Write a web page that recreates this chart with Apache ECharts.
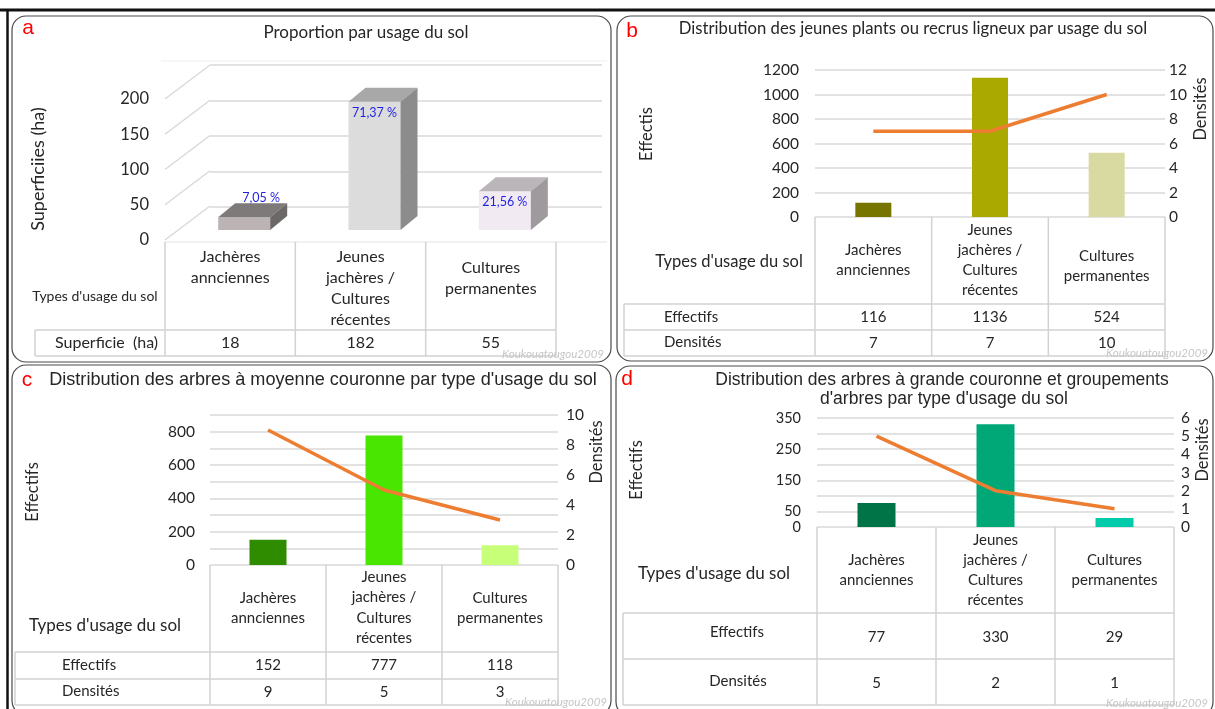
<!DOCTYPE html>
<html>
<head>
<meta charset="utf-8">
<script src="https://cdn.jsdelivr.net/npm/echarts@6/dist/echarts.min.js"></script>
<style>
html, body { margin: 0; padding: 0; background: #fff; }
#main { width: 1215px; height: 709px; }
</style>
</head>
<body>
<div id="main"></div>
<script>
// données
var categories = ['Jachères\nannciennes', 'Jeunes\njachères /\nCultures\nrécentes', 'Cultures\npermanentes'];

// a - superficie par usage du sol
var superficies = [18, 182, 55];
var proportions = ['7,05 %', '71,37 %', '21,56 %'];
var ticksA = [0, 50, 100, 150, 200];

// b - jeunes plants ou recrus ligneux
var effectifsB = [116, 1136, 524];
var densitesB = [7, 7, 10];

// c - arbres à moyenne couronne
var effectifsC = [152, 777, 118];
var densitesC = [9, 5, 3];
var ticksC = [0, 200, 400, 600, 800];

// d - arbres à grande couronne
var effectifsD = [77, 330, 29];
var densitesD = [5, 2, 1];
var ticksD = [0, 50, 150, 250, 350];

var chart = echarts.init(document.getElementById('main'));

var FONT = 'Lato, "Open Sans", sans-serif';
var ARIAL = '"Liberation Sans", Arial, sans-serif';
var TXT = '#262626';
var GRID = '#d9d9d9';
var TABLE = '#d2d2d2';
var ORANGE = '#ed7d31';

var colorsA = [
    {front: '#bcb4b4', top: '#7e7a7a', side: '#6c6868'},
    {front: '#dcdcdc', top: '#a8a8a8', side: '#8c8c8c'},
    {front: '#f2eaf2', top: '#bab6ba', side: '#9e9a9e'}
];
var colorsB = ['#757500', '#a9a900', '#d9d9a2'];
var colorsC = ['#2f8c00', '#48e600', '#c8ff78'];
var colorsD = ['#007447', '#00a878', '#00cbaa'];

function text(x, y, s, o) {
    o = o || {};
    return {
        type: 'text', x: x, y: y, rotation: o.rot || 0, silent: true, z: 10,
        style: {
            text: s, fill: o.color || TXT,
            font: (o.italic ? 'italic ' : '') + (o.size || 14) + 'px ' + (o.family || FONT),
            align: o.align || 'center', verticalAlign: 'middle',
            lineHeight: o.lh || Math.round((o.size || 14) * 1.4)
        }
    };
}
function line(x1, y1, x2, y2, color, w) {
    return {type: 'line', silent: true, z: 1, shape: {x1: x1, y1: y1, x2: x2, y2: y2},
        style: {stroke: color || TABLE, lineWidth: w || 1.5}};
}
function frame(x, y, w, h) {
    return {type: 'rect', silent: true, z: 0, shape: {x: x, y: y, width: w, height: h, r: 14},
        style: {fill: 'none', stroke: '#4a4a4a', lineWidth: 1.2}};
}

function tableGraphics(t) {
    var g = [];
    var colW = t.width / 3;
    var right = t.left + t.width;
    var bottom = t.hLines[t.hLines.length - 1];
    for (var i = 0; i <= 3; i++) g.push(line(t.left + i * colW, t.top, t.left + i * colW, bottom));
    t.hLines.forEach(function (y) { g.push(line(t.outer, y, right, y)); });
    g.push(line(t.outer, t.hLines[0], t.outer, bottom));
    categories.forEach(function (c, i) {
        g.push(text(t.left + (i + 0.5) * colW, t.catY[i], c, {size: t.catSize, lh: t.catLH}));
    });
    g.push(text(t.headX, t.headY, "Types d'usage du sol", {size: t.headSize}));
    t.rows.forEach(function (r) {
        g.push(text(r.x, r.y, r.label, {size: t.rowSize, align: r.align}));
        r.values.forEach(function (v, i) {
            g.push(text(t.left + (i + 0.5) * colW, r.vy, String(v), {size: t.rowSize}));
        });
    });
    return g;
}

function bars(values, colors) {
    return values.map(function (v, i) { return {value: v, itemStyle: {color: colors[i]}}; });
}

var hiddenX = function (grid) {
    return {type: 'category', gridIndex: grid, data: categories,
        axisLine: {show: false}, axisTick: {show: false}, axisLabel: {show: false}, splitLine: {show: false}};
};
var plain = function (v) { return String(v); };
var labelStyle = {color: TXT, fontSize: 15.5, fontFamily: FONT, formatter: plain};

var graphics = [
    line(0, 10, 1215, 10, '#111', 3),
    line(7.5, 10, 7.5, 709, '#111', 2.5),
    frame(12, 16, 599, 346),
    frame(617, 16, 596, 345),
    frame(12, 365, 599, 350),
    frame(616, 366, 597, 350),
    // lettres
    text(28, 28, 'a', {size: 21, color: '#ff0000', family: ARIAL}),
    text(632, 31, 'b', {size: 21, color: '#ff0000', family: ARIAL}),
    text(27, 380, 'c', {size: 21, color: '#ff0000', family: ARIAL}),
    text(627, 379, 'd', {size: 21, color: '#ff0000', family: ARIAL}),
    // titres
    text(366, 33, 'Proportion par usage du sol', {size: 17}),
    text(913, 29, 'Distribution des jeunes plants ou recrus ligneux par usage du sol', {size: 16.7}),
    text(323, 380, "Distribution des arbres à moyenne couronne par type d'usage du sol", {size: 18.1, family: ARIAL}),
    text(942, 380, 'Distribution des arbres à grande couronne et groupements', {size: 17.5, family: ARIAL}),
    text(944, 399, "d'arbres par type d'usage du sol", {size: 17.5, family: ARIAL}),
    // titres d'axes
    text(38, 169, 'Superficiies (ha)', {size: 18, rot: Math.PI / 2}),
    text(647, 134, 'Effectis', {size: 16.5, rot: Math.PI / 2}),
    text(1201, 109, 'Densités', {size: 16.5, rot: Math.PI / 2}),
    text(33, 492, 'Effectifs', {size: 16.5, rot: Math.PI / 2}),
    text(597, 452, 'Densités', {size: 16.5, rot: Math.PI / 2}),
    text(637, 470, 'Effectifs', {size: 16.5, rot: Math.PI / 2}),
    text(1203, 450, 'Densités', {size: 16.5, rot: Math.PI / 2}),
    // filigrane
    text(604, 354, 'Koukouatougou2009', {size: 11.5, color: '#c6c6c6', italic: true, align: 'right'}),
    text(1208, 353, 'Koukouatougou2009', {size: 11.5, color: '#c6c6c6', italic: true, align: 'right'}),
    text(607, 702, 'Koukouatougou2009', {size: 11.5, color: '#c6c6c6', italic: true, align: 'right'}),
    text(1208, 703, 'Koukouatougou2009', {size: 11.5, color: '#c6c6c6', italic: true, align: 'right'}),
    // sol du graphique 3D
    line(165, 242, 607, 242, '#e4e4e4', 1.2),
    line(161, 61, 607, 61, '#eeeeee', 1)
];

graphics = graphics
    .concat(tableGraphics({
        left: 165, width: 391, top: 242, outer: 35, hLines: [330, 356],
        catY: [267, 288, 278], catSize: 16, catLH: 21,
        headX: 95, headY: 296, headSize: 14, rowSize: 16,
        rows: [{label: 'Superficie  (ha)', x: 55, y: 343, align: 'left', vy: 343, values: superficies}]
    }))
    .concat(tableGraphics({
        left: 815, width: 350, top: 217, outer: 624, hLines: [304, 330, 356],
        catY: [260.5, 260.5, 266], catSize: 15, catLH: 20,
        headX: 729, headY: 262, headSize: 16.5, rowSize: 15,
        rows: [
            {label: 'Effectifs', x: 664, y: 317, align: 'left', vy: 317, values: effectifsB},
            {label: 'Densités', x: 664, y: 342, align: 'left', vy: 343, values: densitesB}
        ]
    }))
    .concat(tableGraphics({
        left: 210, width: 348, top: 565, outer: 15, hLines: [652, 679, 705],
        catY: [608, 607.5, 608], catSize: 15, catLH: 20.5,
        headX: 105, headY: 626, headSize: 17, rowSize: 15,
        rows: [
            {label: 'Effectifs', x: 62, y: 665, align: 'left', vy: 665, values: effectifsC},
            {label: 'Densités', x: 62, y: 691, align: 'left', vy: 692, values: densitesC}
        ]
    }))
    .concat(tableGraphics({
        left: 817, width: 357, top: 527, outer: 623, hLines: [613, 659, 705],
        catY: [570, 570, 570], catSize: 15, catLH: 20,
        headX: 714, headY: 574, headSize: 17, rowSize: 15,
        rows: [
            {label: 'Effectifs', x: 737, y: 632, align: 'center', vy: 637, values: effectifsD},
            {label: 'Densités', x: 738, y: 681, align: 'center', vy: 683, values: densitesD}
        ]
    }));

option = {
    animation: false,
    backgroundColor: '#fff',
    textStyle: {fontFamily: FONT},
    grid: [
        {left: 165, top: 99, width: 391, height: 141},   // a, plan avant
        {left: 210, top: 65, width: 392, height: 142},   // a, paroi du fond
        {left: 815, top: 70, width: 350, height: 147},   // b
        {left: 210, top: 415, width: 348, height: 150},  // c
        {left: 817, top: 418, width: 357, height: 109}   // d
    ],
    xAxis: [hiddenX(0), hiddenX(1), hiddenX(2), hiddenX(3), hiddenX(4)],
    yAxis: [
        {type: 'value', gridIndex: 0, min: 0, max: 200, interval: 50,
            axisLine: {show: false}, axisTick: {show: false}, splitLine: {show: false},
            axisLabel: Object.assign({}, labelStyle, {margin: 16, fontSize: 16.5})},
        {type: 'value', gridIndex: 1, min: 0, max: 200, interval: 50,
            axisLine: {show: false}, axisTick: {show: false}, axisLabel: {show: false},
            splitLine: {lineStyle: {color: GRID, width: 1.5}}},
        {type: 'value', gridIndex: 2, min: 0, max: 1200, interval: 200,
            axisLine: {show: false}, axisTick: {show: false},
            axisLabel: Object.assign({margin: 16}, labelStyle),
            splitLine: {lineStyle: {color: GRID, width: 1.5}}},
        {type: 'value', gridIndex: 2, position: 'right', min: 0, max: 12, interval: 2,
            axisLine: {show: false}, axisTick: {show: false}, splitLine: {show: false},
            axisLabel: Object.assign({margin: 4, padding: [0, 0, 5, 0]}, labelStyle)},
        {type: 'value', gridIndex: 3, min: 0, max: 900, interval: 100,
            axisLine: {show: false}, axisTick: {show: false},
            axisLabel: Object.assign({margin: 15, customValues: ticksC}, labelStyle),
            splitLine: {lineStyle: {color: GRID, width: 1.5}}},
        {type: 'value', gridIndex: 3, position: 'right', min: 0, max: 10, interval: 2,
            axisLine: {show: false}, axisTick: {show: false}, splitLine: {show: false},
            axisLabel: Object.assign({margin: 8, padding: [0, 0, 4, 0]}, labelStyle)},
        {type: 'value', gridIndex: 4, min: 0, max: 350, interval: 50,
            axisLine: {show: false}, axisTick: {show: false},
            axisLabel: Object.assign({}, labelStyle, {margin: 16, customValues: ticksD, fontSize: 14.5}),
            splitLine: {lineStyle: {color: GRID, width: 1.5}}},
        {type: 'value', gridIndex: 4, position: 'right', min: 0, max: 6, interval: 1,
            axisLine: {show: false}, axisTick: {show: false}, splitLine: {show: false},
            axisLabel: Object.assign({margin: 7, padding: [0, 0, 4, 0]}, labelStyle)}
    ],
    series: [
        // a : paroi latérale (lignes obliques)
        {
            type: 'custom', xAxisIndex: 0, yAxisIndex: 0, silent: true, z: 1,
            data: ticksA.map(function (v) { return [0, v]; }),
            renderItem: function (params, api) {
                var cs = params.coordSys;
                var y = api.coord([0, api.value(1)])[1];
                return {type: 'line', shape: {x1: cs.x, y1: y, x2: cs.x + 45, y2: y - 34},
                    style: {stroke: GRID, lineWidth: 1.5}};
            }
        },
        // a : barres 3D
        {
            type: 'custom', xAxisIndex: 0, yAxisIndex: 0, z: 3,
            data: superficies.map(function (v, i) { return [i, v]; }),
            renderItem: function (params, api) {
                var i = api.value(0);
                var base = api.coord([i, 0]);
                var top = api.coord([i, api.value(1)]);
                var w = 52, dx = 17, dy = -14;
                var x0 = base[0] + 14 - w / 2;
                var yb = base[1] - 10, yt = top[1] - 10;
                var c = colorsA[i];
                var small = yb - yt < 25;
                return {
                    type: 'group',
                    children: [
                        {type: 'rect', shape: {x: x0, y: yt, width: w, height: yb - yt}, style: {fill: c.front}},
                        {type: 'polygon', shape: {points: [[x0, yt], [x0 + w, yt], [x0 + w + dx, yt + dy], [x0 + dx, yt + dy]]},
                            style: {fill: c.top}},
                        {type: 'polygon', shape: {points: [[x0 + w, yt], [x0 + w + dx, yt + dy], [x0 + w + dx, yb + dy], [x0 + w, yb]]},
                            style: {fill: c.side}},
                        {type: 'text', x: x0 + w / 2 + (small ? 17 : 0), y: small ? yt - 19 : yt + 11,
                            style: {text: proportions[i], fill: '#1f1fe6', font: '12.5px ' + FONT,
                                align: 'center', verticalAlign: 'middle'}}
                    ]
                };
            }
        },
        // b
        {type: 'bar', xAxisIndex: 2, yAxisIndex: 2, barWidth: 36, data: bars(effectifsB, colorsB)},
        {type: 'line', xAxisIndex: 2, yAxisIndex: 3, data: densitesB, showSymbol: false,
            lineStyle: {color: ORANGE, width: 3.5}, itemStyle: {color: ORANGE}},
        // c
        {type: 'bar', xAxisIndex: 3, yAxisIndex: 4, barWidth: 37, data: bars(effectifsC, colorsC)},
        {type: 'line', xAxisIndex: 3, yAxisIndex: 5, data: densitesC, showSymbol: false,
            lineStyle: {color: ORANGE, width: 3.5}, itemStyle: {color: ORANGE}},
        // d
        {type: 'bar', xAxisIndex: 4, yAxisIndex: 6, barWidth: 38, data: bars(effectifsD, colorsD)},
        {type: 'line', xAxisIndex: 4, yAxisIndex: 7, data: densitesD, showSymbol: false,
            lineStyle: {color: ORANGE, width: 3.5}, itemStyle: {color: ORANGE}}
    ],
    graphic: graphics
};

chart.setOption(option);
</script>
</body>
</html>
